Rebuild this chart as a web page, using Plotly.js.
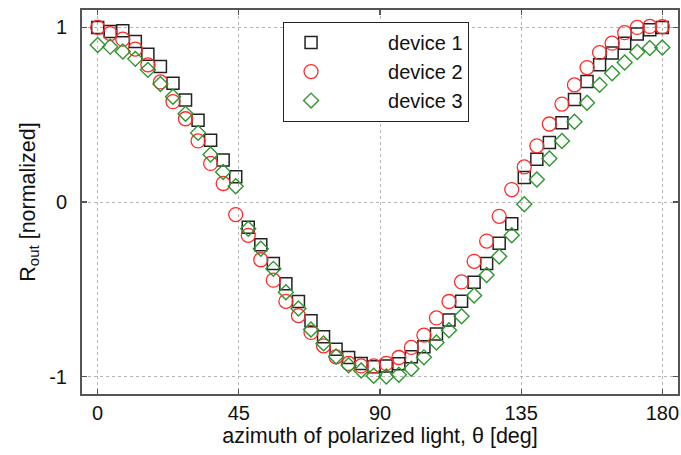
<!DOCTYPE html>
<html>
<head>
<meta charset="utf-8">
<script src="https://cdn.plot.ly/plotly-3.0.1.min.js"></script>
<style>html,body{margin:0;padding:0;background:#fff}#chart{width:681px;height:455px}</style>
</head>
<body>
<div id="chart"></div>
<script>
var theta = [0,4,8,12,16,20,24,28,32,36,40,44,48,52,56,60,64,68,72,76,80,84,88,92,96,100,104,108,112,116,120,124,128,132,136,140,144,148,152,156,160,164,168,172,176,180];
var device1 = [1.0,0.977,0.981,0.92,0.847,0.776,0.68,0.584,0.469,0.354,0.24,0.144,-0.145,-0.245,-0.352,-0.469,-0.57,-0.68,-0.772,-0.843,-0.891,-0.925,-0.944,-0.939,-0.927,-0.887,-0.829,-0.756,-0.676,-0.569,-0.46,-0.352,-0.236,-0.124,0.14,0.245,0.341,0.454,0.587,0.69,0.786,0.853,0.91,0.962,0.987,1.0];
var device2 = [1.0,0.965,0.933,0.876,0.786,0.688,0.575,0.477,0.35,0.221,0.106,-0.072,-0.191,-0.331,-0.448,-0.569,-0.651,-0.747,-0.824,-0.887,-0.925,-0.939,-0.939,-0.925,-0.891,-0.833,-0.763,-0.664,-0.57,-0.458,-0.34,-0.224,-0.082,0.071,0.201,0.322,0.447,0.561,0.671,0.77,0.856,0.91,0.97,1.0,1.006,1.004];
var device3 = [0.9,0.89,0.862,0.82,0.757,0.676,0.603,0.505,0.396,0.272,0.172,0.09,-0.153,-0.268,-0.383,-0.517,-0.61,-0.73,-0.81,-0.885,-0.935,-0.965,-0.995,-1.0,-0.99,-0.955,-0.89,-0.805,-0.735,-0.655,-0.536,-0.418,-0.312,-0.191,-0.013,0.129,0.249,0.35,0.46,0.569,0.671,0.738,0.799,0.859,0.882,0.885];
var names = ["device 1","device 2","device 3"];
var xTicks = [0,45,90,135,180];
var yTicks = [-1,0,1];

var pad = "\u00a0\u00a0\u00a0\u00a0\u00a0\u00a0\u00a0\u00a0\u00a0";
var FONT = "Arial, 'Liberation Sans', sans-serif";
var traces = [
  {x: theta, y: device1, name: pad + names[0], mode: "markers", type: "scatter",
   marker: {symbol: "square-open", size: 12, color: "#222", line: {width: 1.5}}},
  {x: theta, y: device2, name: pad + names[1], mode: "markers", type: "scatter",
   marker: {symbol: "circle-open", size: 14, color: "#ff2a2a", line: {width: 1.3}}},
  {x: theta, y: device3, name: pad + names[2], mode: "markers", type: "scatter",
   marker: {symbol: "diamond-open", size: 11.5, color: "#2e962e", line: {width: 1.4}}}
];

var axisCommon = {
  showline: true, mirror: "ticks", linecolor: "#555", linewidth: 2,
  ticks: "inside", ticklen: 5, tickcolor: "#555", tickwidth: 1.2,
  showgrid: true, gridcolor: "#b5b5b5", griddash: "dot", gridwidth: 1,
  zeroline: false,
  tickfont: {family: FONT, size: 20, color: "#111"}
};

var layout = {
  width: 681, height: 455,
  margin: {l: 82, r: 3, t: 10, b: 61},
  paper_bgcolor: "#fff", plot_bgcolor: "#fff",
  font: {family: FONT, color: "#111"},
  showlegend: true,
  legend: {x: 0.337, y: 0.969, xanchor: "left", yanchor: "top",
           bgcolor: "#fff", bordercolor: "#222", borderwidth: 1.2,
           font: {size: 20, family: FONT, color: "#111"},
           tracegroupgap: 0, itemwidth: 44},
  xaxis: Object.assign({}, axisCommon, {
    range: [-5, 185], tickvals: xTicks, ticktext: xTicks.map(String),
    ticklabelstandoff: 0,
    title: {text: "azimuth of polarized light, \u03b8 [deg]", font: {size: 21.5, color: "#111"}, standoff: 2}
  }),
  yaxis: Object.assign({}, axisCommon, {
    range: [-1.1, 1.1], tickvals: yTicks, ticktext: yTicks.map(String),
    ticklabelstandoff: 9,
    title: {text: "R<sub>out</sub> [normalized]", font: {size: 21.5, color: "#111"}, standoff: 8}
  })
};

Plotly.newPlot("chart", traces, layout, {displayModeBar: false, staticPlot: true});
</script>
</body>
</html>
